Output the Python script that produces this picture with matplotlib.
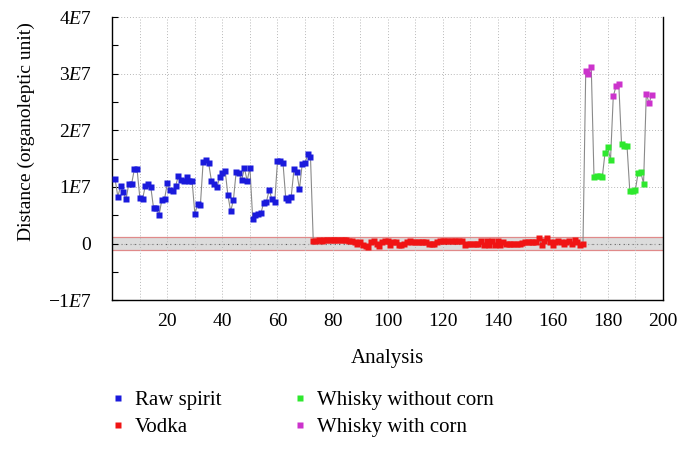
import matplotlib
matplotlib.use("Agg")
import matplotlib.pyplot as plt
from matplotlib.ticker import FuncFormatter, MultipleLocator
from matplotlib.lines import Line2D

plt.rcParams["font.family"] = ["Liberation Serif", "DejaVu Serif"]
plt.rcParams["mathtext.fontset"] = "custom"
plt.rcParams["mathtext.rm"] = "Liberation Serif"
plt.rcParams["mathtext.it"] = "Liberation Serif:italic"

# --------------------------------------------------
# Data (distance in units of 1E7)
# --------------------------------------------------
raw_spirit = [
    1.14, 0.83, 1.01, 0.91, 0.78, 1.06, 1.05, 1.31, 1.31, 0.81,
    0.79, 1.02, 1.05, 0.99, 0.62, 0.62, 0.51, 0.77, 0.79, 1.07,
    0.95, 0.92, 1.02, 1.19, 1.12, 1.10, 1.18, 1.10, 1.10, 0.52,
    0.70, 0.68, 1.44, 1.47, 1.42, 1.11, 1.06, 0.99, 1.17, 1.24,
    1.29, 0.85, 0.57, 0.77, 1.27, 1.25, 1.12, 1.33, 1.11, 1.34,
    0.44, 0.50, 0.52, 0.54, 0.72, 0.74, 0.95, 0.78, 0.73,
    1.45, 1.45, 1.43, 0.80, 0.77, 0.83, 1.31, 1.26, 0.96, 1.41,
    1.42, 1.58, 1.53,
]

vodka = [
    0.05, 0.05, 0.06, 0.05, 0.06, 0.07, 0.07, 0.07, 0.07, 0.06,
    0.07, 0.06, 0.06, 0.05, 0.05, 0.03, 0.00, 0.03, -0.02, -0.04,
    -0.06, 0.02, 0.04, 0.00, -0.04, 0.03, 0.05, 0.05, -0.03, 0.03,
    0.02, -0.03, -0.03, 0.00, 0.02, 0.04, 0.03, 0.03, 0.03, 0.02,
    0.03, 0.02, 0.00, 0.00, 0.00, 0.03, 0.04, 0.04, 0.04, 0.04,
    0.04, 0.04, 0.04, 0.04, 0.04, -0.03, 0.00, 0.00, 0.00, 0.00,
    0.00, 0.04, -0.03, 0.04, -0.03, 0.04, -0.03, 0.04, -0.02, 0.03,
    0.00, 0.00, 0.00, 0.00, 0.00, 0.00, 0.01, 0.03, 0.03, 0.03,
    0.03, 0.02, 0.09, -0.03, 0.04, 0.09, 0.02, -0.03, 0.02, 0.04,
    0.03, 0.00, 0.02, 0.04, 0.00, 0.06, 0.02, -0.02, 0.00,
]

# whisky samples in analysis order, with group tag (1 = with corn)
whisky = [
    3.05, 3.00, 3.12, 1.17, 1.20, 1.20, 1.17, 1.60, 1.70, 1.48,
    2.60, 2.78, 2.82, 1.76, 1.72, 1.72, 0.93, 0.93, 0.94, 1.24,
    1.26, 1.06, 2.65, 2.48, 2.63,
]
whisky_corn = [
    1, 1, 1, 0, 0, 0, 0, 0, 0, 0,
    1, 1, 1, 0, 0, 0, 0, 0, 0, 0,
    0, 0, 1, 1, 1,
]

legend_labels = ["Raw spirit", "Vodka", "Whisky without corn", "Whisky with corn"]
colors = ["#1a1adc", "#f01414", "#2ee82e", "#cc33cc"]

band_half = 0.12  # grey acceptance band, units of 1E7

# --------------------------------------------------
# Build analysis index
# --------------------------------------------------
values = raw_spirit + vodka + whisky
x_all = list(range(1, len(values) + 1))
groups = [0] * len(raw_spirit) + [1] * len(vodka) + [3 if c else 2 for c in whisky_corn]
y_all = [v * 1e7 for v in values]

# --------------------------------------------------
# Plot
# --------------------------------------------------
fig = plt.figure(figsize=(6.89, 4.5), dpi=100)
ax = fig.add_axes([0.163, 0.333, 0.799, 0.629])

ax.axhspan(-band_half * 1e7, band_half * 1e7, facecolor="#dcdcdc", edgecolor="none", zorder=0)
for yb in (-band_half * 1e7, band_half * 1e7):
    ax.axhline(yb, color="#e08a8a", lw=0.9, zorder=1)

ax.plot(x_all, y_all, color="#8a8a8a", lw=0.8, zorder=2)
for g in range(4):
    xs = [x for x, gg in zip(x_all, groups) if gg == g]
    ys = [y for y, gg in zip(y_all, groups) if gg == g]
    ax.plot(xs, ys, ls="none", marker="s", ms=3.8, mec="none", color=colors[g], zorder=3)

ax.set_xlim(0, 200)
ax.set_ylim(-1e7, 4e7)
ax.set_xticks(range(20, 201, 20))
ax.xaxis.set_minor_locator(MultipleLocator(10))
ax.yaxis.set_major_locator(MultipleLocator(1e7))
ax.yaxis.set_minor_locator(MultipleLocator(0.5e7))


def fmt(v, pos):
    n = int(round(v / 1e7))
    if n == 0:
        return "0"
    sign = "\u2212" if n < 0 else ""
    return f"{sign}{abs(n)}$\\mathit{{E}}$7"


ax.yaxis.set_major_formatter(FuncFormatter(fmt))
ax.grid(True, which="both", axis="x", ls=(0, (1, 2)), color="#b8b8b8", lw=0.7)
ax.grid(True, which="major", axis="y", ls=(0, (1, 2)), color="#b8b8b8", lw=0.7)
ax.axhline(0, color="#555555", ls=(0, (1, 3)), lw=0.8, zorder=1)

ax.tick_params(axis="both", which="both", direction="in", labelsize=14)
ax.tick_params(axis="y", which="both", length=4, width=0.8, pad=15)
ax.tick_params(axis="x", which="both", length=0, pad=9)
ax.spines["top"].set_visible(False)
for s in ax.spines.values():
    s.set_linewidth(1.0)

ax.set_xlabel("Analysis", fontsize=15, labelpad=14)
ax.set_ylabel("Distance (organoleptic unit)", fontsize=14)
ax.yaxis.set_label_coords(-0.14, 0.594)

handles = [Line2D([], [], ls="none", marker="s", ms=5, mec="none", color=c) for c in colors]
fig.legend(handles, legend_labels, ncol=2, loc="upper left", bbox_to_anchor=(0.132, 0.173),
           frameon=False, fontsize=15, handletextpad=0.4, columnspacing=3.4,
           labelspacing=0.35, handlelength=0.8)

fig.savefig("out.png", dpi=100)
